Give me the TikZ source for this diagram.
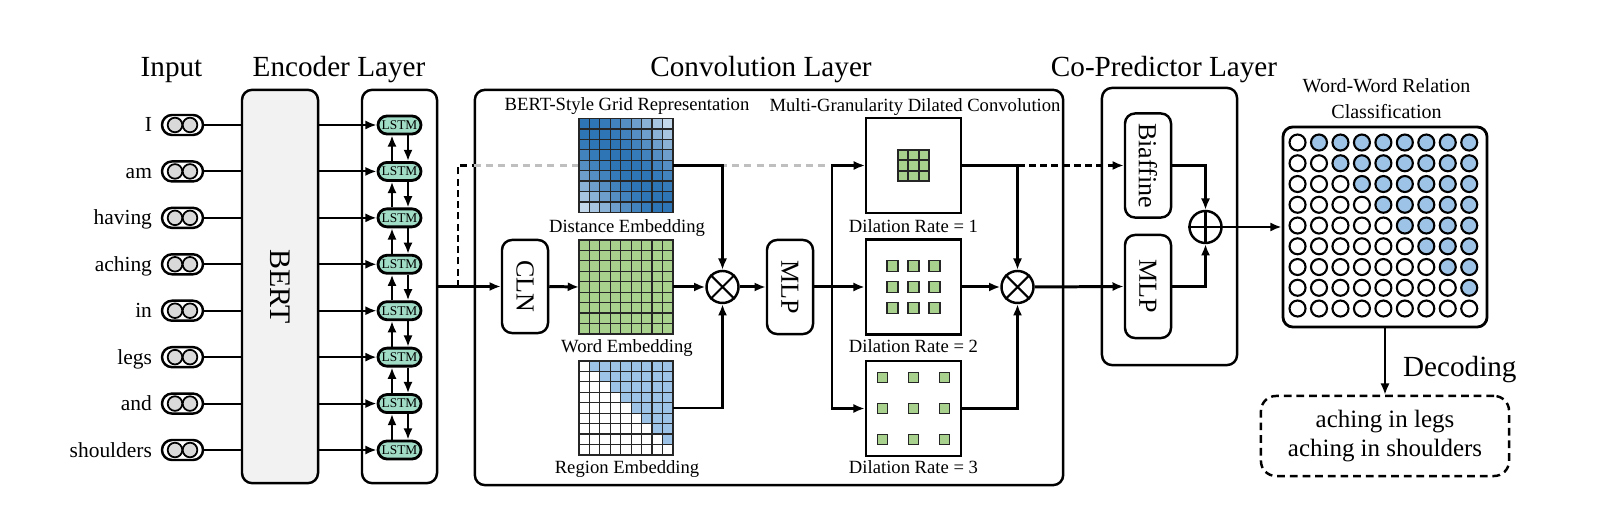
\documentclass[tikz,border=0pt]{standalone}
\usepackage{fontspec}
\setmainfont{Liberation Serif}
\usetikzlibrary{arrows.meta,positioning,calc}

\definecolor{bertgray}{HTML}{F2F2F2}
\definecolor{tokgray}{HTML}{D9D9D9}
\definecolor{lstmgreen}{HTML}{A0DCC6}
\definecolor{embgreen}{HTML}{A9D18E}
\definecolor{regblue}{HTML}{9DC3E6}
\definecolor{distblue}{HTML}{2E75B6}
\definecolor{dashgray}{HTML}{BFBFBF}

\newcommand{\fsize}[2]{\fontsize{#1}{#2}\selectfont}

\begin{document}
\begin{tikzpicture}[
    x=0.01cm, y=-0.01cm,
    line width=0.6pt,
    >={Latex[length=3.2pt,width=2.6pt]},
    title/.style={font=\fsize{8.3}{10}, anchor=base, inner sep=0},
    word/.style={font=\fsize{6.1}{7.5}, anchor=base east, inner sep=0},
    label/.style={font=\fsize{5.3}{6.4}, anchor=base, inner sep=0},
    token/.style={draw, fill=white, rounded corners=0.1cm, minimum width=0.41cm,
        minimum height=0.2cm, inner sep=0, line width=0.7pt},
    tokdot/.style={draw, fill=tokgray, line width=0.5pt},
    lstm/.style={draw, fill=lstmgreen, rounded corners=0.09cm, minimum width=0.43cm,
        minimum height=0.18cm, inner sep=0, line width=0.8pt, font=\fsize{3.8}{4}},
    panel/.style={draw, rounded corners=0.1cm, inner sep=0, line width=0.7pt},
    opbox/.style={draw, fill=white, rounded corners=0.1cm, minimum width=0.46cm,
        inner sep=0, line width=0.7pt},
    optext/.style={font=\fsize{7.4}{9}, rotate=-90, inner sep=0},
    gridbox/.style={minimum size=0.94cm, inner sep=0, outer sep=0},
    dbox/.style={draw, fill=white, minimum size=0.95cm, inner sep=0, line width=0.75pt},
    opcirc/.style={draw, circle, fill=white, minimum size=0.32cm, inner sep=0, line width=0.7pt},
    cell/.style={draw=black!85, line width=0.35pt},
    kcell/.style={draw=black!85, fill=embgreen, line width=0.45pt},
    dot/.style={draw, line width=0.6pt},
    conn/.style={->, line width=0.6pt},
    main/.style={->, line width=0.85pt},
    skip/.style={dashed, dash pattern=on 2pt off 1.2pt, line width=0.6pt},
    skipgray/.style={dashgray, dash pattern=on 2pt off 1.5pt, line width=0.6pt}
]

\useasboundingbox (0,0) rectangle (1600,510);

% Layer titles
\node[title] (tinput) at (171.5,77) {Input};
\node[title] (tenc) at (339,77) {Encoder Layer};
\node[title] (tconv) at (761,77) {Convolution Layer};
\node[title] (tcop) at (1164,77) {Co-Predictor Layer};

% Panels
\node[panel, fill=bertgray, minimum width=0.76cm, minimum height=3.93cm] (bert) at (280,286.5) {};
\node[font=\fsize{8.5}{10}, rotate=-90, inner sep=0] (berttext) at (bert) {BERT};
\node[panel, minimum width=0.75cm, minimum height=3.93cm] (lstmp) at (399.5,286.5) {};
\node[panel, minimum width=5.88cm, minimum height=3.95cm] (conv) at (769,287.5) {};
\node[panel, minimum width=1.35cm, minimum height=2.77cm] (copred) at (1169.5,226.5) {};

% Skip connection to the biaffine (drawn first, behind the grids)
\coordinate (dsplit) at (458,287);
\coordinate (dtop) at (458,165.5);
\coordinate (dend) at (1017.5,165.5);
\draw[skip] (dsplit) -- (dtop) -- (dtop -| conv.west);
\draw[skipgray] (dtop -| conv.west) -- (dend);

% Input tokens and BiLSTM
\foreach \w [count=\i] in {I,am,having,aching,in,legs,and,shoulders} {
    \pgfmathsetmacro{\ry}{125+46.43*(\i-1)}
    \node[word] (w\i) at (153,\ry+7) {\w};
    \node[token] (t\i) at (182.5,\ry) {};
    \draw[tokdot] ([xshift=-0.075cm]t\i.center) circle (0.073cm);
    \draw[tokdot] ([xshift=0.075cm]t\i.center) circle (0.073cm);
    \node[lstm] (l\i) at (399.5,\ry) {LSTM};
    \draw (t\i.east) -- (t\i.east -| bert.west);
    \draw[conn] (l\i -| bert.east) -- (l\i.west);
}
\foreach \i [evaluate=\i as \k using int(\i+1)] in {1,...,7} {
    \draw[conn] ([xshift=-0.075cm]l\k.north) -- ([xshift=-0.075cm]l\i.south);
    \draw[conn] ([xshift=0.085cm]l\i.south) -- ([xshift=0.085cm]l\k.north);
}

% BERT-style grid representation
\node[label] (tgrid) at (627,111) {BERT-Style Grid Representation};
\node[gridbox] (dist) at (626,165.5) {};
\node[gridbox] (wemb) at (626,287) {};
\node[gridbox] (remb) at (626,408) {};
\foreach \i in {0,...,8} {
    \foreach \j in {0,...,8} {
        \pgfmathtruncatemacro{\d}{abs(\i-\j)}
        \pgfmathtruncatemacro{\p}{{100,100,96,90,82,70,56,42,28}[\d]}
        \filldraw[cell, fill=distblue!\p!white] ($(dist.north west)+(10.44*\j,10.44*\i)$) rectangle ++(10.44,10.44);
        \filldraw[cell, fill=embgreen] ($(wemb.north west)+(10.44*\j,10.44*\i)$) rectangle ++(10.44,10.44);
        \ifnum\j>\i\relax \def\regfill{regblue}\else \def\regfill{white}\fi
        \filldraw[cell, fill=\regfill] ($(remb.north west)+(10.44*\j,10.44*\i)$) rectangle ++(10.44,10.44);
    }
}
\node[label] (tdist) at (627,232.7) {Distance Embedding};
\node[label] (twemb) at (627,352.7) {Word Embedding};
\node[label] (tremb) at (627,474) {Region Embedding};

\node[opbox, minimum height=0.93cm] (cln) at (525,286.5) {};
\node[optext] (clntext) at (cln) {CLN};
\node[opcirc] (o1) at (722.5,287) {};
\draw (o1.north east) -- (o1.south west) (o1.north west) -- (o1.south east);

% Multi-granularity dilated convolution
\node[label] (tmgdc) at (915,111.7) {Multi-Granularity Dilated Convolution};
\node[opbox, minimum height=0.94cm] (mlpa) at (790,287) {};
\node[optext] (mlpatext) at (mlpa) {MLP};
\node[dbox, line width=0.6pt] (d1) at (913.5,165.5) {};
\node[dbox] (d2) at (913.5,287) {};
\node[dbox] (d3) at (913.5,408.5) {};
\foreach \dx in {-1,0,1} {
    \foreach \dy in {-1,0,1} {
        \filldraw[kcell] ($(d1)+(\dx*10.5-5.25,\dy*10.5-5.25)$) rectangle ++(10.5,10.5);
        \filldraw[kcell] ($(d2)+(\dx*21-5.5,\dy*21-5.5)$) rectangle ++(11,11);
        \filldraw[kcell] ($(d3)+(\dx*31-5,\dy*31-5)$) rectangle ++(10,10);
    }
}
\node[label] (td1) at (913.5,232.7) {Dilation Rate = 1};
\node[label] (td2) at (913.5,352.7) {Dilation Rate = 2};
\node[label] (td3) at (913.5,474) {Dilation Rate = 3};
\node[opcirc] (o2) at (1017.5,287) {};
\draw (o2.north east) -- (o2.south west) (o2.north west) -- (o2.south east);

% Co-predictor
\node[opbox, minimum height=1.04cm] (biaf) at (1148,165.5) {};
\node[optext] (biaftext) at (biaf) {Biaffine};
\node[opbox, minimum height=1.03cm] (mlpb) at (1148,286.5) {};
\node[optext] (mlpbtext) at (mlpb) {MLP};
\node[opcirc] (cop) at (1205.5,227) {};
\draw (cop.north) -- (cop.south) (cop.west) -- (cop.east);

% Word-word relation classification
\node[font=\fsize{5.7}{7}, anchor=base, inner sep=0] (tcls1) at (1386.5,92.7) {Word-Word Relation};
\node[font=\fsize{5.7}{7}, anchor=base, inner sep=0] (tcls2) at (1386.5,118.3) {Classification};
\node[panel, line width=0.8pt, minimum width=2.04cm, minimum height=2.0cm] (cls) at (1385,227) {};
\foreach \i in {0,...,8} {
    \foreach \j in {0,...,8} {
        \ifnum\j>\i\relax \def\clsfill{regblue}\else \def\clsfill{white}\fi
        \filldraw[dot, fill=\clsfill] ($(cls.north west)+(16+21.46*\j,17+20.75*\i)$) circle (0.08cm);
    }
}

% Decoding
\node[panel, dashed, dash pattern=on 2.2pt off 1.4pt, rounded corners=0.15cm,
    minimum width=2.48cm, minimum height=0.8cm, align=center,
    font=\fsize{7.1}{8.5}] (dec) at (1385,436) {aching in legs\\aching in shoulders};
\node[title, anchor=base west] (tdec) at (1402,377) {Decoding};

% Connections
\draw[main] (lstmp.east |- cln) -- (cln.west);
\draw[main] (cln.east) -- (wemb.west);
\draw[main] (wemb.east) -- (o1.west);
\draw[conn] (dist.east) -| (o1.north);
\draw[conn] (remb.east) -| (o1.south);
\draw[main] (o1.east) -- (mlpa.west);
\coordinate (mj) at (832,287);
\draw[main, -] (mlpa.east) -- (mj);
\draw[conn] (mj) |- (d1.west);
\draw[main] (mj) -- (d2.west);
\draw[conn] (mj) |- (d3.west);
\draw[conn] (d1.east) -| (o2.north);
\draw[main] (d2.east) -- (o2.west);
\draw[conn] (d3.east) -| (o2.south);
\draw[main] (o2.east) -- (mlpb.west);
\draw[skip, ->] (dend) -- (biaf.west);
\draw[conn] (biaf.east) -| (cop.north);
\draw[conn] (mlpb.east) -| (cop.south);
\draw[conn] (cop.east) -- (cls.west);
\draw[conn] (cls.south) -- (dec.north);

\end{tikzpicture}
\end{document}
